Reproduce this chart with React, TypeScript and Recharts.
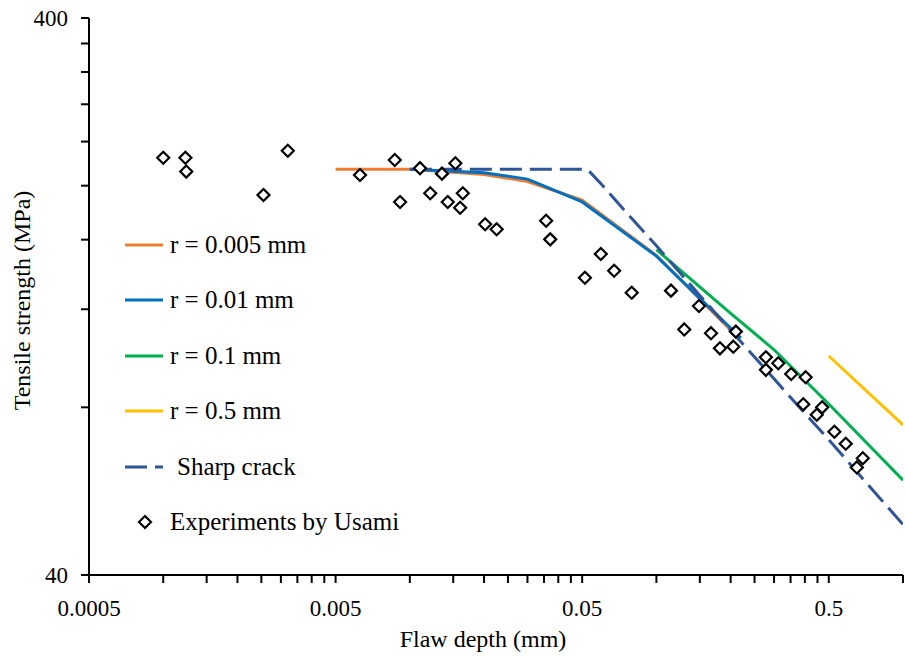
import React from "react";
import { ComposedChart, XAxis, YAxis, Line, Scatter, Legend, Label } from "recharts";

// flaw depth ticks (mm): majors carry a label, the rest are minor ticks
const xTicks = [
  0.0005, 0.001, 0.0015, 0.002, 0.0025, 0.003, 0.0035, 0.004, 0.0045,
  0.005, 0.01, 0.015, 0.02, 0.025, 0.03, 0.035, 0.04, 0.045,
  0.05, 0.1, 0.15, 0.2, 0.25, 0.3, 0.35, 0.4, 0.45,
  0.5, 1,
];
const xLabels = [0.0005, 0.005, 0.05, 0.5];
const yTicks = [40, 80, 120, 160, 200, 240, 280, 320, 360, 400];
const yLabels = [40, 400];

// model curves, notch radius r
const depthR005 = [0.005, 0.01, 0.02, 0.03, 0.05, 0.1, 0.2];
const strengthR005 = [214, 214, 209.5, 203.5, 188.5, 150, 110];

const depthR01 = [0.01, 0.02, 0.03, 0.05, 0.1, 0.22];
const strengthR01 = [214, 211, 205.5, 187, 149.5, 106.5];

const depthR1 = [0.1, 0.2, 0.3, 0.5, 1];
const strengthR1 = [153.5, 118, 101.5, 81.1, 59.2];

const depthR5 = [0.5, 1];
const strengthR5 = [98.9, 74.4];

const depthCrack = [0.01, 0.02, 0.03, 0.04, 0.05, 0.053, 0.06, 0.07, 0.08, 0.1, 0.15, 0.2, 0.3, 0.4, 0.5, 0.7, 1];
const strengthCrack = [214, 214, 214, 214, 214, 213, 201, 186, 174, 156, 127, 110, 90, 78, 70, 59, 49.3];

// experiments by Usami
const expDepth = [
  0.001, 0.00123, 0.00124, 0.00255, 0.0032, 0.00628, 0.00869, 0.00913, 0.011, 0.0121,
  0.0135, 0.01425, 0.0153, 0.016, 0.0164, 0.0202, 0.0225, 0.0357, 0.0371, 0.0513,
  0.0595, 0.0674, 0.0794, 0.1146, 0.1297, 0.1488, 0.1665, 0.181, 0.205, 0.21,
  0.278, 0.278, 0.312, 0.352, 0.403, 0.394, 0.447, 0.47, 0.527, 0.586, 0.65, 0.687,
];
const expStrength = [
  224.5, 224.5, 212, 192.4, 231, 209, 222.4, 187, 215, 193.8,
  210.2, 187, 219.4, 182.6, 193.8, 170.5, 167, 173, 160.2, 136.7,
  150.8, 140.7, 128.5, 129.6, 110.4, 121.6, 108.7, 102.1, 102.8, 109.4,
  98.4, 93.4, 96, 91.8, 90.6, 81, 77.6, 80, 72.3, 68.8, 62.4, 64.8,
];

const toPoints = (xs: number[], ys: number[]) => xs.map((x, i) => ({ x, y: ys[i] }));

const FONT = "'Liberation Serif', 'Times New Roman', serif";

const series = [
  { name: "r = 0.005 mm", color: "#ED7D31", data: toPoints(depthR005, strengthR005) },
  { name: "r = 0.01 mm", color: "#0070C0", data: toPoints(depthR01, strengthR01) },
  { name: "r = 0.1 mm", color: "#00B050", data: toPoints(depthR1, strengthR1) },
  { name: "r = 0.5 mm", color: "#FFC000", data: toPoints(depthR5, strengthR5) },
];
const crackData = toPoints(depthCrack, strengthCrack);
const expData = toPoints(expDepth, expStrength);

const Diamond = (props: any) => {
  const { cx, cy } = props;
  const s = 6;
  return (
    <path
      d={`M${cx},${cy - s}L${cx + s},${cy}L${cx},${cy + s}L${cx - s},${cy}Z`}
      fill="#fff"
      stroke="#000"
      strokeWidth={2.2}
    />
  );
};

const XTick = (props: any) => {
  const { x, y, payload } = props;
  if (!xLabels.includes(payload.value)) return <g />;
  return (
    <text x={x} y={y + 29} textAnchor="middle" fontFamily={FONT} fontSize={23} fill="#000">
      {payload.value}
    </text>
  );
};

const YTick = (props: any) => {
  const { x, y, payload } = props;
  if (!yLabels.includes(payload.value)) return <g />;
  return (
    <text x={x - 9} y={y + 8} textAnchor="end" fontFamily={FONT} fontSize={23} fill="#000">
      {payload.value}
    </text>
  );
};

const LegendBox = () => {
  const rows = [
    ...series.map((s) => ({ name: s.name, color: s.color, kind: "line" })),
    { name: "Sharp crack", color: "#2F5597", kind: "dash" },
    { name: "Experiments by Usami", color: "#000", kind: "marker" },
  ];
  return (
    <div style={{ fontFamily: FONT, fontSize: 25, color: "#000" }}>
      {rows.map((r) => (
        <div key={r.name} style={{ height: 55.5, display: "flex", alignItems: "center" }}>
          <svg width={40} height={16} style={{ flex: "none" }}>
            {r.kind === "marker" ? (
              <Diamond cx={22} cy={8} />
            ) : (
              <line
                x1={2}
                x2={40}
                y1={8}
                y2={8}
                stroke={r.color}
                strokeWidth={3}
                strokeDasharray={r.kind === "dash" ? "22 8" : undefined}
              />
            )}
          </svg>
          <span style={{ marginLeft: r.kind === "dash" ? 14 : 7, whiteSpace: "nowrap" }}>{r.name}</span>
        </div>
      ))}
    </div>
  );
};

export default function App() {
  // pinned to the window corner so the chart fills the 905x656 window
  return (
    <div style={{ fontFamily: FONT, position: "fixed", left: 0, top: 0, width: 905, height: 656, background: "#fff" }}>
      <ComposedChart width={905} height={656} margin={{ top: 18, right: 2, left: 0, bottom: 0 }}>
        <XAxis
          dataKey="x"
          type="number"
          scale="log"
          domain={[0.0005, 1]}
          allowDataOverflow
          ticks={xTicks}
          interval={0}
          height={81}
          tickSize={8}
          tickMargin={4}
          tick={<XTick />}
          axisLine={{ stroke: "#000", strokeWidth: 2 }}
          tickLine={{ stroke: "#000", strokeWidth: 2 }}
        >
          <Label
            content={(p: any) => {
              const vb = p.viewBox;
              return (
                <text x={vb.x + vb.width / 2 - 13} y={647} textAnchor="middle" fontFamily={FONT} fontSize={24} fill="#000">
                  Flaw depth (mm)
                </text>
              );
            }}
          />
        </XAxis>
        <YAxis
          type="number"
          scale="log"
          domain={[40, 400]}
          allowDataOverflow
          ticks={yTicks}
          interval={0}
          width={89}
          tickSize={8}
          tickMargin={4}
          tick={<YTick />}
          axisLine={{ stroke: "#000", strokeWidth: 2 }}
          tickLine={{ stroke: "#000", strokeWidth: 2 }}
        >
          <Label
            content={(p: any) => {
              const vb = p.viewBox;
              const cx = 22;
              const cy = vb.y + vb.height / 2 + 4;
              return (
                <text
                  x={cx}
                  y={cy}
                  transform={`rotate(-90 ${cx} ${cy})`}
                  textAnchor="middle"
                  dominantBaseline="central"
                  fontFamily={FONT}
                  fontSize={24}
                  fill="#000"
                >
                  Tensile strength (MPa)
                </text>
              );
            }}
          />
        </YAxis>
        <Legend
          layout="vertical"
          align="center"
          verticalAlign="middle"
          content={() => <LegendBox />}
          wrapperStyle={{ left: 123, top: 217, width: 320, height: "auto" }}
        />
        {series.map((s) => (
          <Line
            key={s.name}
            data={s.data}
            dataKey="y"
            name={s.name}
            type="linear"
            stroke={s.color}
            strokeWidth={3}
            dot={false}
            activeDot={false}
            isAnimationActive={false}
          />
        ))}
        <Line
          data={crackData}
          dataKey="y"
          name="Sharp crack"
          type="linear"
          stroke="#2F5597"
          strokeWidth={3}
          strokeDasharray="22 8"
          dot={false}
          activeDot={false}
          isAnimationActive={false}
        />
        <Scatter
          data={expData}
          dataKey="y"
          name="Experiments by Usami"
          shape={<Diamond />}
          isAnimationActive={false}
        />
      </ComposedChart>
    </div>
  );
}
